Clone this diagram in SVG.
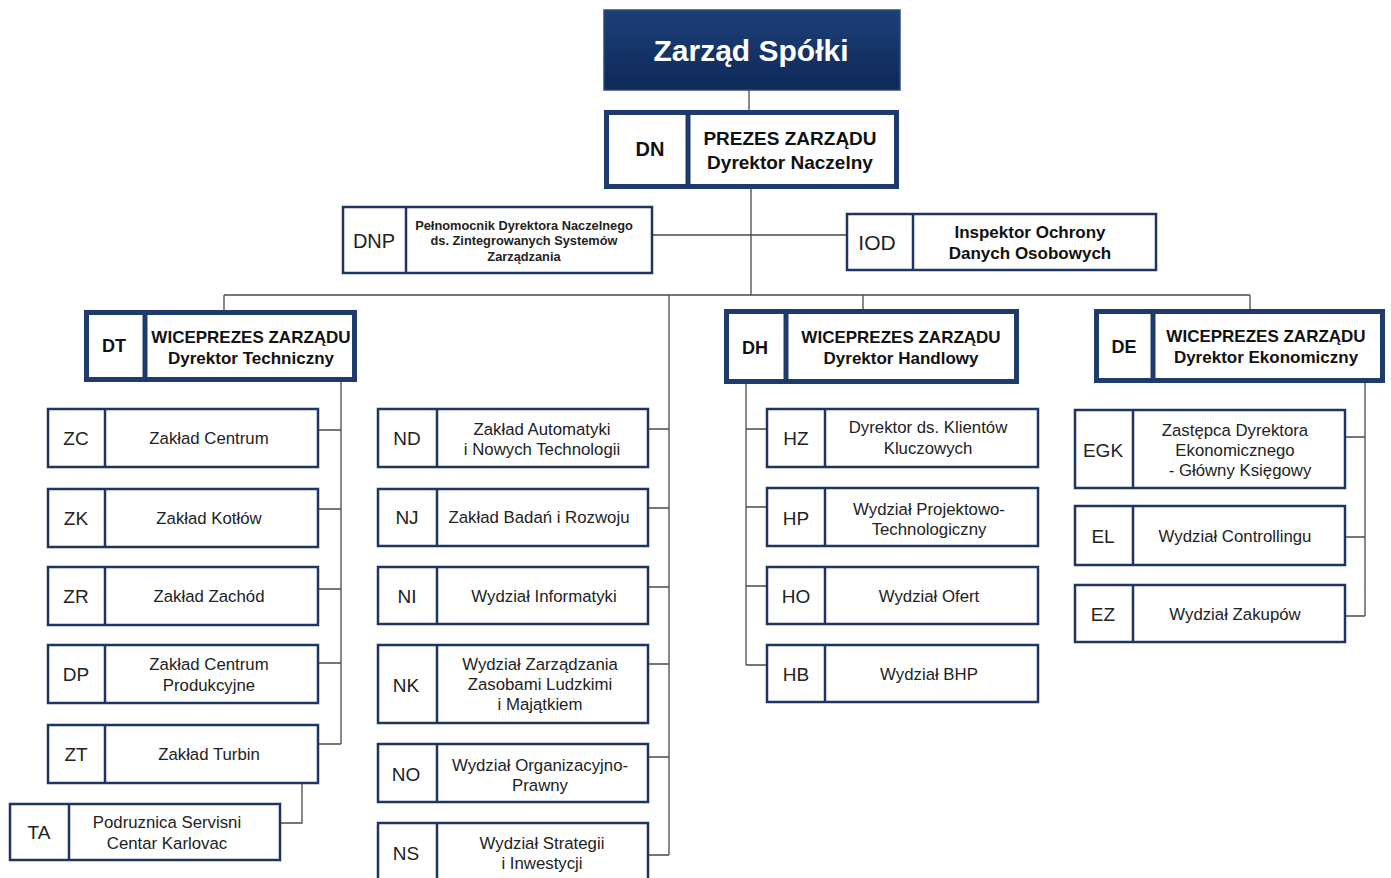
<svg xmlns="http://www.w3.org/2000/svg" width="1391" height="878" viewBox="0 0 1391 878">
<defs>
<linearGradient id="navy" x1="0" y1="0" x2="0" y2="1">
<stop offset="0" stop-color="#1d4079"/>
<stop offset="1" stop-color="#0f2857"/>
</linearGradient>
</defs>
<style>
.thick{fill:#fff;stroke:#1f3b6b;stroke-width:5}
.thin{fill:#fff;stroke:#1f3561;stroke-width:2.5}
.dv{stroke:#1f3561;stroke-width:2.5}
.dvt{stroke:#1f3b6b;stroke-width:5}
.c{fill:none;stroke:#4a4a4a;stroke-width:1.3}
text{font-family:"Liberation Sans",Arial,sans-serif;fill:#222;text-anchor:middle}
.lb{font-size:19px}
.tx{font-size:16.8px}
.hb{font-size:17px;font-weight:bold;fill:#111}
.hl{font-size:18px;font-weight:bold;fill:#111}
.sm{font-size:12.8px;font-weight:bold}
</style>
<rect width="1391" height="878" fill="#fff"/>
<g id="connectors">
<path class="c" d="M749 90V110M751 189V295M224 295H1250M224 295V310M863 295V309M1250 295V309M669 295V855M653 235H846"/>
<path class="c" d="M341 382V744M319 430H341M319 509H341M319 589H341M319 663H341M319 744H341M302 783V823H281"/>
<path class="c" d="M649 429H669M649 508H669M649 587H669M649 664H669M649 757H669M649 855H669"/>
<path class="c" d="M746 384V665M746 429H767M746 507H767M746 586H767M746 665H767"/>
<path class="c" d="M1365 383V616M1346 437H1365M1346 537H1365M1346 616H1365"/>
</g>
<g id="zarzad">
<rect x="604" y="10" width="296" height="80" fill="url(#navy)" stroke="#2b4a80" stroke-width="1.5"/>
<text x="751" y="61" style="font-size:30px;font-weight:bold;fill:#fff">Zarząd Spółki</text>
</g>
<g id="DN">
<rect class="thick" x="606.5" y="112.5" width="290" height="74"/>
<line class="dvt" x1="688" y1="112" x2="688" y2="187"/>
<text x="650" y="156" style="font-size:20px;font-weight:bold;fill:#111">DN</text>
<text class="hl" x="790" y="145" style="font-size:19px">PREZES ZARZĄDU</text>
<text class="hl" x="790" y="169" style="font-size:19px">Dyrektor Naczelny</text>
</g>
<g id="DNP">
<rect class="thin" x="343" y="207" width="309" height="66"/>
<line class="dv" x1="406" y1="207" x2="406" y2="273"/>
<text x="374" y="248" style="font-size:20px">DNP</text>
<text class="sm" x="524" y="230">Pełnomocnik Dyrektora Naczelnego</text>
<text class="sm" x="524" y="245">ds. Zintegrowanych Systemów</text>
<text class="sm" x="524" y="261">Zarządzania</text>
</g>
<g id="IOD">
<rect class="thin" x="847" y="214" width="309" height="56"/>
<line class="dv" x1="913" y1="214" x2="913" y2="270"/>
<text x="877" y="250" style="font-size:21px">IOD</text>
<text class="hb" x="1030" y="238">Inspektor Ochrony</text>
<text class="hb" x="1030" y="259">Danych Osobowych</text>
</g>
<g id="DT">
<rect class="thick" x="86.5" y="312.5" width="268" height="67"/>
<line class="dvt" x1="145" y1="312" x2="145" y2="380"/>
<text class="hl" x="114" y="352">DT</text>
<text class="hb" x="251" y="343">WICEPREZES ZARZĄDU</text>
<text class="hb" x="251" y="364">Dyrektor Techniczny</text>
</g>
<g id="DH">
<rect class="thick" x="726.5" y="311.5" width="290" height="70"/>
<line class="dvt" x1="786" y1="311" x2="786" y2="382"/>
<text class="hl" x="755" y="354">DH</text>
<text class="hb" x="901" y="343">WICEPREZES ZARZĄDU</text>
<text class="hb" x="901" y="364">Dyrektor Handlowy</text>
</g>
<g id="DE">
<rect class="thick" x="1096.5" y="311.5" width="286" height="69"/>
<line class="dvt" x1="1153" y1="311" x2="1153" y2="381"/>
<text class="hl" x="1124" y="353">DE</text>
<text class="hb" x="1266" y="342">WICEPREZES ZARZĄDU</text>
<text class="hb" x="1266" y="363">Dyrektor Ekonomiczny</text>
</g>
<g id="ZC"><rect class="thin" x="48" y="409" width="270" height="58"/><line class="dv" x1="105" y1="409" x2="105" y2="467"/><text class="lb" x="76" y="445">ZC</text><text class="tx" x="209" y="444">Zakład Centrum</text></g>
<g id="ZK"><rect class="thin" x="48" y="489" width="270" height="58"/><line class="dv" x1="105" y1="489" x2="105" y2="547"/><text class="lb" x="76" y="525">ZK</text><text class="tx" x="209" y="524">Zakład Kotłów</text></g>
<g id="ZR"><rect class="thin" x="48" y="567" width="270" height="58"/><line class="dv" x1="105" y1="567" x2="105" y2="625"/><text class="lb" x="76" y="603">ZR</text><text class="tx" x="209" y="602">Zakład Zachód</text></g>
<g id="DP"><rect class="thin" x="48" y="645" width="270" height="58"/><line class="dv" x1="105" y1="645" x2="105" y2="703"/><text class="lb" x="76" y="681">DP</text><text class="tx" x="209" y="670">Zakład Centrum</text><text class="tx" x="209" y="691">Produkcyjne</text></g>
<g id="ZT"><rect class="thin" x="48" y="725" width="270" height="58"/><line class="dv" x1="105" y1="725" x2="105" y2="783"/><text class="lb" x="76" y="761">ZT</text><text class="tx" x="209" y="760">Zakład Turbin</text></g>
<g id="TA"><rect class="thin" x="10" y="804" width="270" height="56"/><line class="dv" x1="69" y1="804" x2="69" y2="860"/><text class="lb" x="39" y="839">TA</text><text class="tx" x="167" y="828">Podruznica Servisni</text><text class="tx" x="167" y="849">Centar Karlovac</text></g>
<g id="ND"><rect class="thin" x="378" y="409" width="270" height="58"/><line class="dv" x1="437" y1="409" x2="437" y2="467"/><text class="lb" x="407" y="445">ND</text><text class="tx" x="542" y="435">Zakład Automatyki</text><text class="tx" x="542" y="455">i Nowych Technologii</text></g>
<g id="NJ"><rect class="thin" x="378" y="489" width="270" height="57"/><line class="dv" x1="437" y1="489" x2="437" y2="546"/><text class="lb" x="407" y="524">NJ</text><text class="tx" x="539" y="523">Zakład Badań i Rozwoju</text></g>
<g id="NI"><rect class="thin" x="378" y="567" width="270" height="57"/><line class="dv" x1="437" y1="567" x2="437" y2="624"/><text class="lb" x="407" y="603">NI</text><text class="tx" x="544" y="602">Wydział Informatyki</text></g>
<g id="NK"><rect class="thin" x="378" y="645" width="270" height="78"/><line class="dv" x1="437" y1="645" x2="437" y2="723"/><text class="lb" x="406" y="692">NK</text><text class="tx" x="540" y="670">Wydział Zarządzania</text><text class="tx" x="540" y="690">Zasobami Ludzkimi</text><text class="tx" x="540" y="710">i Majątkiem</text></g>
<g id="NO"><rect class="thin" x="378" y="744" width="270" height="58"/><line class="dv" x1="437" y1="744" x2="437" y2="802"/><text class="lb" x="406" y="781">NO</text><text class="tx" x="540" y="771">Wydział Organizacyjno-</text><text class="tx" x="540" y="791">Prawny</text></g>
<g id="NS"><rect class="thin" x="378" y="823" width="270" height="62"/><line class="dv" x1="437" y1="823" x2="437" y2="885"/><text class="lb" x="406" y="860">NS</text><text class="tx" x="542" y="849">Wydział Strategii</text><text class="tx" x="542" y="869">i Inwestycji</text></g>
<g id="HZ"><rect class="thin" x="767" y="409" width="271" height="58"/><line class="dv" x1="825" y1="409" x2="825" y2="467"/><text class="lb" x="796" y="445">HZ</text><text class="tx" x="928" y="433">Dyrektor ds. Klientów</text><text class="tx" x="928" y="454">Kluczowych</text></g>
<g id="HP"><rect class="thin" x="767" y="488" width="271" height="58"/><line class="dv" x1="825" y1="488" x2="825" y2="546"/><text class="lb" x="796" y="525">HP</text><text class="tx" x="929" y="515">Wydział Projektowo-</text><text class="tx" x="929" y="535">Technologiczny</text></g>
<g id="HO"><rect class="thin" x="767" y="567" width="271" height="57"/><line class="dv" x1="825" y1="567" x2="825" y2="624"/><text class="lb" x="796" y="603">HO</text><text class="tx" x="929" y="602">Wydział Ofert</text></g>
<g id="HB"><rect class="thin" x="767" y="645" width="271" height="57"/><line class="dv" x1="825" y1="645" x2="825" y2="702"/><text class="lb" x="796" y="681">HB</text><text class="tx" x="929" y="680">Wydział BHP</text></g>
<g id="EGK"><rect class="thin" x="1075" y="410" width="270" height="78"/><line class="dv" x1="1133" y1="410" x2="1133" y2="488"/><text class="lb" x="1103" y="457">EGK</text><text class="tx" x="1235" y="436">Zastępca Dyrektora</text><text class="tx" x="1235" y="456">Ekonomicznego</text><text class="tx" x="1240" y="476">- Główny Księgowy</text></g>
<g id="EL"><rect class="thin" x="1075" y="506" width="270" height="59"/><line class="dv" x1="1133" y1="506" x2="1133" y2="565"/><text class="lb" x="1103" y="543">EL</text><text class="tx" x="1235" y="542">Wydział Controllingu</text></g>
<g id="EZ"><rect class="thin" x="1075" y="585" width="270" height="57"/><line class="dv" x1="1133" y1="585" x2="1133" y2="642"/><text class="lb" x="1103" y="621">EZ</text><text class="tx" x="1235" y="620">Wydział Zakupów</text></g>
</svg>
